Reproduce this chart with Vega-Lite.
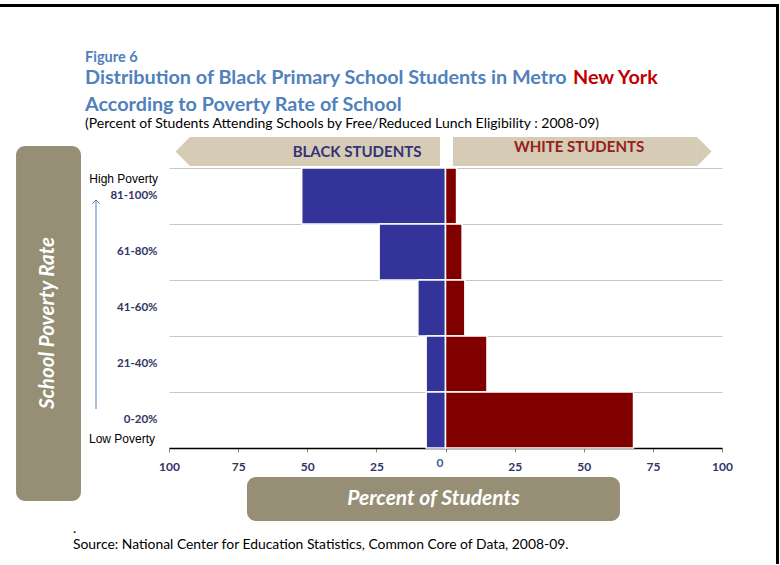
{
  "$schema": "https://vega.github.io/schema/vega-lite/v6.json",
  "padding": {"top": 4, "left": 0, "right": 0, "bottom": 0},
  "background": "white",
  "spacing": 0,
  "config": {
    "font": "Lato",
    "view": {"stroke": null},
    "axis": {"labelFont": "Lato", "titleFont": "Lato"},
    "title": {"font": "Lato", "subtitleFont": "Lato"},
    "text": {"font": "Lato"}
  },
  "hconcat": [
    {
      "spacing": 43,
      "vconcat": [
        {
          "width": 776, "height": 3,
          "view": {"fill": "black", "stroke": null},
          "data": {"values": [{"part": "frame top"}]},
          "mark": {"type": "rect", "fill": "black"},
          "encoding": {}
        },
        {
          "title": {
            "text": "Figure 6",
            "anchor": "start", "dx": 85, "fontSize": 14.5, "fontWeight": "bold", "color": "#4f81bd", "offset": 2
          },
          "spacing": 0,
          "vconcat": [
            {
              "spacing": 5,
              "hconcat": [
                {
                  "width": 1, "height": 1,
                  "title": {
                    "text": "Distribution of Black Primary School Students in Metro",
                    "anchor": "start", "dx": 85, "fontSize": 19.8, "fontWeight": "bold", "color": "#4f81bd", "offset": -4
                  },
                  "data": {"values": [{"part": "title line"}]},
                  "mark": {"type": "text", "text": ""},
                  "encoding": {}
                },
                {
                  "width": 1, "height": 1,
                  "title": {
                    "text": "New York",
                    "anchor": "start", "fontSize": 19.8, "fontWeight": "bold", "color": "#c00000", "offset": -4
                  },
                  "data": {"values": [{"part": "title city"}]},
                  "mark": {"type": "text", "text": ""},
                  "encoding": {}
                }
              ]
            },
            {
              "title": {
                "text": "According to Poverty Rate of School",
                "subtitle": "(Percent of Students Attending Schools by Free/Reduced Lunch Eligibility : 2008-09)",
                "anchor": "start", "dx": 85, "fontSize": 19.8, "fontWeight": "bold", "color": "#4f81bd",
                "subtitleFontSize": 14, "subtitleFontWeight": "normal", "subtitleColor": "black", "subtitlePadding": 2,
                "offset": 6
              },
              "spacing": 4,
              "hconcat": [
                {
                  "width": 81, "height": 364,
                  "layer": [
                    {
                      "data": {"values": [{"part": "y title box"}]},
                      "mark": {"type": "rect", "fill": "#968f76", "cornerRadius": 9},
                      "encoding": {
                        "x": {"datum": 0.198, "type": "quantitative", "scale": {"domain": [0, 1], "nice": false, "zero": false}, "axis": null},
                        "x2": {"datum": 1},
                        "y": {"datum": 0, "type": "quantitative", "scale": {"domain": [0, 1], "nice": false}, "axis": null},
                        "y2": {"datum": 0.975}
                      }
                    },
                    {
                      "data": {"values": [{"label": "School Poverty Rate"}]},
                      "mark": {"type": "text", "angle": 270, "fontSize": 20.5, "fontWeight": "bold", "fontStyle": "italic", "color": "white"},
                      "encoding": {
                        "x": {"datum": 0.593, "type": "quantitative"},
                        "y": {"datum": 0.489, "type": "quantitative"},
                        "text": {"field": "label"}
                      }
                    }
                  ]
                },
                {
                  "spacing": 1,
                  "vconcat": [
                    {
                      "width": 553, "height": 29,
                      "layer": [
                        {
                          "data": {"values": [{"side": "Black"}]},
                          "mark": {"type": "rect", "fill": "#d6cbb4"},
                          "encoding": {
                            "x": {"datum": -92.4, "type": "quantitative", "scale": {"domain": [-100, 100], "nice": false}, "axis": null},
                            "x2": {"datum": -2}
                          }
                        },
                        {
                          "data": {"values": [{"side": "White"}]},
                          "mark": {"type": "rect", "fill": "#d6cbb4"},
                          "encoding": {"x": {"datum": 2.7, "type": "quantitative"}, "x2": {"datum": 91}}
                        },
                        {
                          "data": {"values": [{"side": "Black"}]},
                          "mark": {"type": "point", "shape": "M 0 -1 L -1 0 L 0 1 Z", "size": 841, "filled": true, "fill": "#d6cbb4", "opacity": 1, "strokeWidth": 0},
                          "encoding": {"x": {"datum": -92.4, "type": "quantitative"}}
                        },
                        {
                          "data": {"values": [{"side": "White"}]},
                          "mark": {"type": "point", "shape": "M 0 -1 L 1 0 L 0 1 Z", "size": 841, "filled": true, "fill": "#d6cbb4", "opacity": 1, "strokeWidth": 0},
                          "encoding": {"x": {"datum": 91, "type": "quantitative"}}
                        },
                        {
                          "data": {"values": [{"header": "BLACK STUDENTS"}]},
                          "mark": {"type": "text", "fontSize": 15, "fontWeight": "bold", "color": "#33337a"},
                          "encoding": {"x": {"datum": -32, "type": "quantitative"}, "text": {"field": "header"}}
                        },
                        {
                          "data": {"values": [{"header": "WHITE STUDENTS"}]},
                          "mark": {"type": "text", "fontSize": 15, "fontWeight": "bold", "color": "#952020", "dy": -4.5},
                          "encoding": {"x": {"datum": 48.3, "type": "quantitative"}, "text": {"field": "header"}}
                        }
                      ]
                    },
                    {
                      "width": 553, "height": 280,
                      "layer": [
                        {
                          "data": {"values": [
                            {"rate": "81-100%", "students": "Black", "percent": -52},
                            {"rate": "61-80%", "students": "Black", "percent": -24},
                            {"rate": "41-60%", "students": "Black", "percent": -10},
                            {"rate": "21-40%", "students": "Black", "percent": -7},
                            {"rate": "0-20%", "students": "Black", "percent": -7},
                            {"rate": "81-100%", "students": "White", "percent": 4},
                            {"rate": "61-80%", "students": "White", "percent": 6},
                            {"rate": "41-60%", "students": "White", "percent": 7},
                            {"rate": "21-40%", "students": "White", "percent": 15},
                            {"rate": "0-20%", "students": "White", "percent": 68}
                          ]},
                          "mark": {"type": "bar", "stroke": "white", "strokeWidth": 1.5},
                          "encoding": {
                            "y": {
                              "field": "rate", "type": "nominal",
                              "scale": {"domain": ["81-100%", "61-80%", "41-60%", "21-40%", "0-20%"], "paddingInner": 0, "paddingOuter": 0},
                              "axis": {
                                "title": null, "domain": false, "ticks": false, "labelFontWeight": "bold", "labelFontSize": 11.5,
                                "labelColor": "#333366", "labelPadding": 12, "grid": true, "gridColor": "#c6c6c6",
                                "bandPosition": 0, "minExtent": 84
                              }
                            },
                            "x": {
                              "field": "percent", "type": "quantitative",
                              "scale": {"domain": [-100, 100], "nice": false},
                              "axis": {
                                "values": [-100, -75, -50, -25, 0, 25, 50, 75, 100],
                                "labelExpr": "abs(datum.value)",
                                "labelFlush": false,
                                "title": null, "grid": false, "domainColor": "black", "domainWidth": 1.5,
                                "tickColor": "#888888", "tickSize": 4,
                                "labelPadding": {"condition": {"test": "datum.value === 0", "value": 5}, "value": 9},
                                "labelOffset": {"condition": {"test": "datum.value === 0", "value": -6}, "value": 0},
                                "labelColor": {"condition": {"test": "datum.value === 0", "value": "#3d5c8f"}, "value": "#333366"},
                                "labelFontWeight": "bold", "labelFontSize": 12, "minExtent": 28
                              }
                            },
                            "color": {
                              "field": "students", "type": "nominal",
                              "scale": {"domain": ["Black", "White"], "range": ["#333399", "#800000"]},
                              "legend": null
                            }
                          }
                        },
                        {
                          "data": {"values": [{"rate": "81-100%", "note": "High Poverty"}]},
                          "mark": {"type": "text", "align": "right", "dx": -11, "dy": -17, "fontSize": 12, "font": "Liberation Sans", "color": "black"},
                          "encoding": {
                            "y": {"field": "rate", "type": "nominal", "scale": {"domain": ["81-100%", "61-80%", "41-60%", "21-40%", "0-20%"]}},
                            "x": {"datum": -100, "type": "quantitative"},
                            "text": {"field": "note"}
                          }
                        },
                        {
                          "data": {"values": [{"rate": "0-20%", "note": "Low Poverty"}]},
                          "mark": {"type": "text", "align": "right", "dx": -14, "dy": 19, "fontSize": 12, "font": "Liberation Sans", "color": "black"},
                          "encoding": {
                            "y": {"field": "rate", "type": "nominal", "scale": {"domain": ["81-100%", "61-80%", "41-60%", "21-40%", "0-20%"]}},
                            "x": {"datum": -100, "type": "quantitative"},
                            "text": {"field": "note"}
                          }
                        },
                        {
                          "data": {"values": [{"rate": "81-100%", "rate_end": "0-20%"}]},
                          "mark": {"type": "rule", "color": "#4f81bd", "strokeWidth": 1, "xOffset": -73, "yOffset": 4, "y2Offset": -11},
                          "encoding": {
                            "x": {"datum": -100, "type": "quantitative"},
                            "y": {"field": "rate", "type": "nominal", "scale": {"domain": ["81-100%", "61-80%", "41-60%", "21-40%", "0-20%"]}},
                            "y2": {"field": "rate_end"}
                          }
                        },
                        {
                          "data": {"values": [{"rate": "81-100%"}]},
                          "mark": {"type": "point", "shape": "M -1 1 L 0 0 L 1 1", "size": 49, "filled": false, "stroke": "#4f81bd", "strokeWidth": 1, "opacity": 1, "xOffset": -73, "yOffset": 4},
                          "encoding": {
                            "x": {"datum": -100, "type": "quantitative"},
                            "y": {"field": "rate", "type": "nominal", "scale": {"domain": ["81-100%", "61-80%", "41-60%", "21-40%", "0-20%"]}}
                          }
                        }
                      ]
                    },
                    {
                      "width": 553, "height": 44,
                      "layer": [
                        {
                          "data": {"values": [{"part": "x title box"}]},
                          "mark": {"type": "rect", "fill": "#968f76", "cornerRadius": 9},
                          "encoding": {
                            "x": {"datum": -71.8, "type": "quantitative", "scale": {"domain": [-100, 100], "nice": false}, "axis": null},
                            "x2": {"datum": 63.1}
                          }
                        },
                        {
                          "data": {"values": [{"label": "Percent of Students"}]},
                          "mark": {"type": "text", "fontSize": 21, "fontWeight": "bold", "fontStyle": "italic", "color": "white"},
                          "encoding": {"x": {"datum": -4.35, "type": "quantitative"}, "text": {"field": "label"}}
                        }
                      ]
                    }
                  ]
                }
              ]
            },
            {
              "width": 776, "height": 4,
              "view": {"fill": "black", "stroke": null},
              "title": {
                "text": [".", "Source:  National Center for Education Statistics, Common Core of Data, 2008-09."],
                "anchor": "start", "dx": 73, "fontSize": 13.9, "fontWeight": "normal", "color": "black", "lineHeight": 16.5, "offset": 16
              },
              "data": {"values": [{"part": "frame bottom"}]},
              "mark": {"type": "rect", "fill": "black"},
              "encoding": {}
            }
          ]
        }
      ]
    },
    {
      "width": 3, "height": 560,
      "view": {"fill": "black", "stroke": null},
      "data": {"values": [{"part": "frame right"}]},
      "mark": {"type": "rect", "fill": "black"},
      "encoding": {}
    }
  ]
}
